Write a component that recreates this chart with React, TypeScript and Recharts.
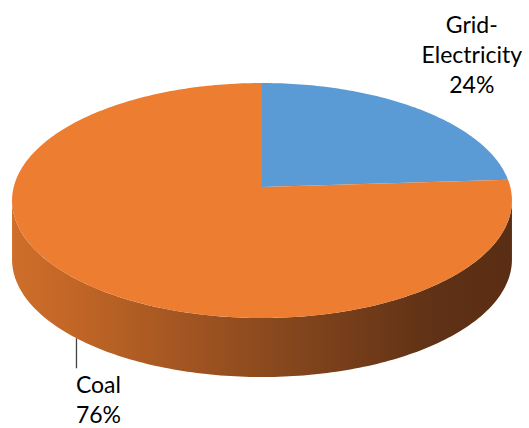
import { PieChart, Pie, Cell } from 'recharts';

const sources = ['Grid-Electricity', 'Coal'];
const shares = [24, 76];

const COLORS = ['#5B9BD5', '#ED7D31'];

const data = sources.map((name, i) => ({ name, value: shares[i] }));

// fake 3D: tilt the disc, shrink the far side a bit, extrude it downwards
const TILT = 0.467;
const PERSP = 0.115;
const DEPTH = 59;
const RAD = Math.PI / 180;

// where each label sits, relative to the slice's rim point
const LABEL_OFFSET = [
  { dx: 53, dy: -76 },
  { dx: 22, dy: 55 },
];

const project = (cx: number, cy: number, r: number, deg: number, drop = 0) => {
  const c = Math.cos(deg * RAD);
  const s = Math.sin(deg * RAD);
  const k = 1 + PERSP * s;
  return [cx + (r * c) / k, cy - (r * TILT * s) / k + drop];
};

const arcPts = (cx: number, cy: number, r: number, a: number, b: number, drop = 0) => {
  const n = Math.max(2, Math.ceil(Math.abs(b - a)));
  const pts: number[][] = [];
  for (let i = 0; i <= n; i++) pts.push(project(cx, cy, r, a + ((b - a) * i) / n, drop));
  return pts;
};

const toPath = (pts: number[][]) =>
  pts.map((p, i) => `${i ? 'L' : 'M'}${p[0].toFixed(2)},${p[1].toFixed(2)}`).join('') + 'Z';

// front half of the rim that shows the side wall
const edge = Math.asin(PERSP) / RAD;
const FRONT_FROM = 180 + edge;
const FRONT_TO = 360 - edge;

const renderSlice = (props: any) => {
  const { cx, cy, outerRadius, startAngle, endAngle, midAngle, index, name, percent } = props;
  const lo = Math.min(startAngle, endAngle);
  const hi = Math.max(startAngle, endAngle);

  const walls: number[][] = [];
  for (let k = -2; k <= 1; k++) {
    const a = Math.max(lo, FRONT_FROM + 360 * k);
    const b = Math.min(hi, FRONT_TO + 360 * k);
    if (b > a) walls.push([a, b]);
  }

  const top = [[cx, cy], ...arcPts(cx, cy, outerRadius, startAngle, endAngle)];

  const s = Math.sin(midAngle * RAD);
  const anchor = project(cx, cy, outerRadius, midAngle, s < 0 ? DEPTH : 0);
  const off = LABEL_OFFSET[index];
  const tx = anchor[0] + off.dx;
  const ty = anchor[1] + off.dy;
  const lines = [...String(name).replace(/-/g, '-\n').split('\n'), `${Math.round(percent * 100)}%`];

  return (
    <g key={`slice-${index}`}>
      <defs>
        <linearGradient id={`wall-${index}`} x1="0" y1="0" x2="1" y2="0">
          <stop offset="0%" stopColor="#CE6E2B" />
          <stop offset="12%" stopColor="#C26626" />
          <stop offset="50%" stopColor="#8C4A1E" />
          <stop offset="85%" stopColor="#5F3116" />
          <stop offset="100%" stopColor="#5A2E14" />
        </linearGradient>
      </defs>
      {walls.map(([a, b], i) => (
        <path
          key={i}
          d={toPath([...arcPts(cx, cy, outerRadius, a, b), ...arcPts(cx, cy, outerRadius, b, a, DEPTH)])}
          fill={`url(#wall-${index})`}
        />
      ))}
      <path d={toPath(top)} fill={COLORS[index % COLORS.length]} />
      {s < 0 && (
        <line x1={anchor[0]} y1={anchor[1]} x2={anchor[0]} y2={anchor[1] + 30} stroke="#404040" strokeWidth={1.3} />
      )}
      <text x={tx} y={ty} textAnchor="middle" fontFamily="Lato, 'Open Sans', sans-serif" fontSize={23} fill="#000">
        {lines.map((t, i) => (
          <tspan key={i} x={tx} dy={i ? 30 : 0}>
            {t}
          </tspan>
        ))}
      </text>
    </g>
  );
};

const App = () => {
  return (
    <div style={{ position: 'absolute', left: 0, top: 0, background: '#fff' }}>
      <PieChart width={529} height={428} margin={{ top: 0, right: 0, bottom: 0, left: 0 }}>
        <Pie
          data={data}
          dataKey="value"
          nameKey="name"
          cx={262}
          cy={187}
          outerRadius={248.3}
          startAngle={90}
          endAngle={-270}
          stroke="none"
          label={renderSlice}
          labelLine={false}
          isAnimationActive={false}
        >
          {data.map((_, index) => (
            <Cell key={`cell-${index}`} fill="none" />
          ))}
        </Pie>
      </PieChart>
    </div>
  );
};

export default App;
